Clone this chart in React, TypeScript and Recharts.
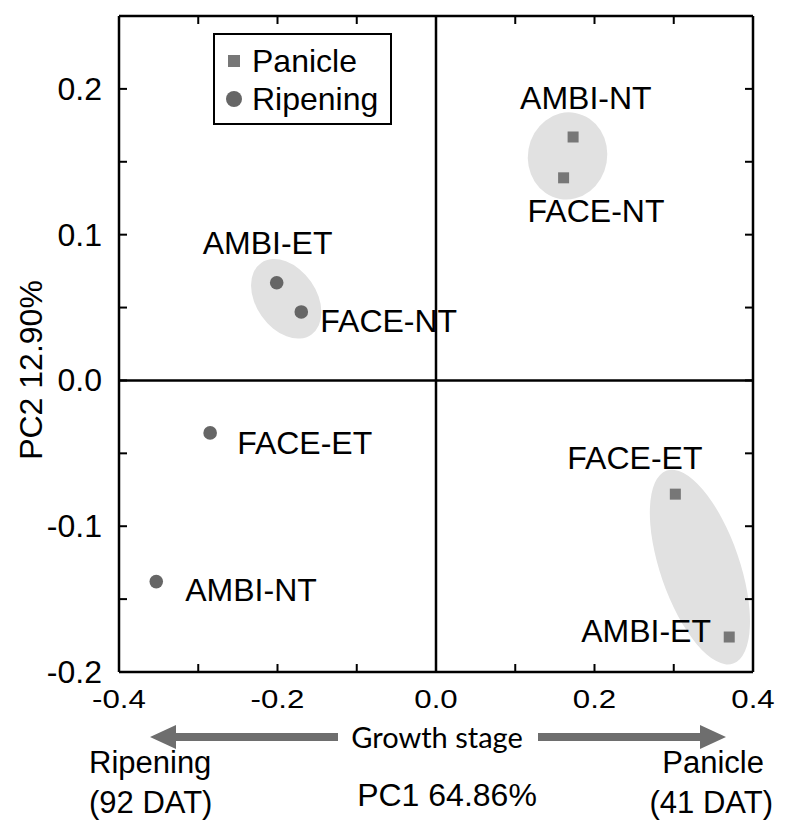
import React from "react";
import {
  ScatterChart,
  Scatter,
  XAxis,
  YAxis,
  ReferenceLine,
  ReferenceArea,
  Legend,
} from "recharts";

const FONT = '"Liberation Sans", Arial, sans-serif';

// PC scores
const panicleNames = ["AMBI-NT", "FACE-NT", "FACE-ET", "AMBI-ET"];
const panicleX = [0.173, 0.161, 0.302, 0.37];
const panicleY = [0.167, 0.139, -0.078, -0.176];

const ripeningNames = ["AMBI-ET", "FACE-NT", "FACE-ET", "AMBI-NT"];
const ripeningX = [-0.201, -0.17, -0.285, -0.353];
const ripeningY = [0.067, 0.047, -0.036, -0.138];

// grey grouping ellipses (centre and half extent, axis units)
const ellipseCx = [0.166, 0.333, -0.189];
const ellipseCy = [0.154, -0.128, 0.056];
const ellipseHx = [0.05, 0.05, 0.038];
const ellipseHy = [0.03, 0.07, 0.03];

const xTicks = [-0.4, -0.3, -0.2, -0.1, 0, 0.1, 0.2, 0.3, 0.4];
const xTickLabels = ["-0.4", "", "-0.2", "", "0.0", "", "0.2", "", "0.4"];
const yTicks = [-0.2, -0.15, -0.1, -0.05, 0, 0.05, 0.1, 0.15, 0.2];
const yTickLabels = ["-0.2", "", "-0.1", "", "0.0", "", "0.1", "", "0.2"];

const panicleData = panicleNames.map((name, i) => ({ name, x: panicleX[i], y: panicleY[i] }));
const ripeningData = ripeningNames.map((name, i) => ({ name, x: ripeningX[i], y: ripeningY[i] }));

// tilt of each ellipse on screen (degrees)
const ellipseTilt = [10, -19, -35];

// where each point's text sits relative to the marker (px)
const labelOffset: Record<string, [number, number]> = {
  "Panicle:AMBI-NT": [-53, -28],
  "Panicle:FACE-NT": [-36, 44],
  "Panicle:FACE-ET": [-108, -25],
  "Panicle:AMBI-ET": [-148, 5],
  "Ripening:AMBI-ET": [-74, -29],
  "Ripening:FACE-NT": [19, 20],
  "Ripening:FACE-ET": [27, 21],
  "Ripening:AMBI-NT": [29, 19],
};

const SQUARE = "#777777";
const CIRCLE = "#666666";

const makeShape = (stage: string) => (props: any) => {
  const { cx, cy, payload } = props;
  const [dx, dy] = labelOffset[`${stage}:${payload.name}`] || [10, 10];
  return (
    <g>
      {stage === "Panicle" ? (
        <rect x={cx - 5.5} y={cy - 5.5} width={11} height={11} fill={SQUARE} />
      ) : (
        <circle cx={cx} cy={cy} r={6.8} fill={CIRCLE} />
      )}
      <text x={cx + dx} y={cy + dy} fontSize={32} fontFamily={FONT} fill="#000">
        {payload.name}
      </text>
    </g>
  );
};

const ellipseShape = (tilt: number) => (props: any) => {
  const { x, y, width, height } = props;
  const cx = x + width / 2;
  const cy = y + height / 2;
  return (
    <ellipse
      cx={cx}
      cy={cy}
      rx={Math.abs(width) / 2}
      ry={Math.abs(height) / 2}
      fill="#e1e1e1"
      transform={`rotate(${tilt} ${cx} ${cy})`}
    />
  );
};

const LeftTick = ({ x, y, index }: any) => (
  <g>
    <line x1={x} y1={y} x2={x + 8} y2={y} stroke="#000" strokeWidth={2} />
    {yTickLabels[index] && (
      <text x={x - 17} y={y + 11} textAnchor="end" fontSize={32} fontFamily={FONT} fill="#000">
        {yTickLabels[index]}
      </text>
    )}
  </g>
);

const RightTick = ({ x, y }: any) => (
  <line x1={x} y1={y} x2={x - 8} y2={y} stroke="#000" strokeWidth={2} />
);

const TopTick = ({ x, y }: any) => (
  <line x1={x} y1={y} x2={x} y2={y + 8} stroke="#000" strokeWidth={2} />
);

const BottomTick = ({ x, y, index }: any) => (
  <g>
    <line x1={x} y1={y} x2={x} y2={y - 8} stroke="#000" strokeWidth={2} />
    {xTickLabels[index] && (
      <text
        transform={`translate(${x},${y + 36}) scale(1.25,1)`}
        textAnchor="middle"
        fontSize={25}
        fontFamily={FONT}
        fill="#000"
      >
        {xTickLabels[index]}
      </text>
    )}
  </g>
);

// arrow with the head at tipX, pointing away from tailX
const arrow = (tailX: number, tipX: number, y: number) => {
  const dir = tipX > tailX ? 1 : -1;
  const base = tipX - dir * 26;
  const pts = [
    [tailX, y - 4],
    [base, y - 4],
    [base, y - 12],
    [tipX, y],
    [base, y + 12],
    [base, y + 4],
    [tailX, y + 4],
  ];
  return <polygon points={pts.map((p) => p.join(",")).join(" ")} fill="#6e6e6e" />;
};

const BottomNotes = (props: any) => {
  const { x, y } = props.viewBox;
  return (
    <g fontFamily={FONT} fill="#000">
      {arrow(x + 219, x + 31, y + 65)}
      {arrow(x + 419, x + 607, y + 65)}
      <text x={x + 318} y={y + 76} textAnchor="middle" fontSize={29} fontFamily="Lato">
        Growth stage
      </text>
      <text x={x - 30} y={y + 101} fontSize={31}>Ripening</text>
      <text x={x - 30} y={y + 141} fontSize={31}>(92 DAT)</text>
      <text x={x + 645} y={y + 101} fontSize={31} textAnchor="end">Panicle</text>
      <text x={x + 654} y={y + 141} fontSize={31} textAnchor="end">(41 DAT)</text>
      <text x={x + 328} y={y + 134} fontSize={32} textAnchor="middle">PC1 64.86%</text>
    </g>
  );
};

const SideTitle = (props: any) => {
  const { x, y, height } = props.viewBox;
  const tx = x + 42;
  const ty = y + height / 2 + 26;
  return (
    <text
      x={tx}
      y={ty}
      transform={`rotate(-90 ${tx} ${ty})`}
      textAnchor="middle"
      fontSize={32}
      fontFamily={FONT}
      fill="#000"
    >
      PC2 12.90%
    </text>
  );
};

const LegendBox = ({ payload }: any) => (
  <div
    style={{
      border: "2px solid #000",
      background: "#fff",
      padding: "7px 12px 5px 11px",
      fontFamily: FONT,
      fontSize: 32,
      lineHeight: "38px",
      color: "#000",
    }}
  >
    {(payload || []).map((p: any) => (
      <div key={p.value} style={{ display: "flex", alignItems: "center", height: 38 }}>
        <svg width={16} height={16} style={{ marginRight: 10 }}>
          {p.value === "Panicle" ? (
            <rect x={2} y={2} width={12} height={12} fill={SQUARE} />
          ) : (
            <circle cx={8} cy={8} r={8} fill={CIRCLE} />
          )}
        </svg>
        <span>{p.value}</span>
      </div>
    ))}
  </div>
);

const frame = { stroke: "#000", strokeWidth: 2.5 };

export default function App() {
  return (
    <div style={{ position: "absolute", left: 0, top: 0, background: "#fff" }}>
      <ScatterChart width={793} height={835} margin={{ top: 0, right: 0, bottom: 0, left: 0 }}>
        <XAxis
          type="number"
          dataKey="x"
          domain={[-0.4, 0.4]}
          ticks={xTicks}
          interval={0}
          allowDataOverflow
          height={163}
          axisLine={frame}
          tickLine={false}
          tickSize={0}
          tickMargin={0}
          tick={<BottomTick />}
          label={{ content: BottomNotes }}
        />
        <XAxis
          xAxisId="top"
          orientation="top"
          type="number"
          dataKey="x"
          domain={[-0.4, 0.4]}
          ticks={xTicks}
          interval={0}
          allowDataOverflow
          height={16}
          axisLine={frame}
          tickLine={false}
          tickSize={0}
          tickMargin={0}
          tick={<TopTick />}
        />
        <YAxis
          type="number"
          dataKey="y"
          domain={[-0.2, 0.25]}
          ticks={yTicks}
          interval={0}
          allowDataOverflow
          width={119}
          axisLine={frame}
          tickLine={false}
          tickSize={0}
          tickMargin={0}
          tick={<LeftTick />}
          label={{ content: SideTitle }}
        />
        <YAxis
          yAxisId="right"
          orientation="right"
          type="number"
          dataKey="y"
          domain={[-0.2, 0.25]}
          ticks={yTicks}
          interval={0}
          allowDataOverflow
          width={40}
          axisLine={frame}
          tickLine={false}
          tickSize={0}
          tickMargin={0}
          tick={<RightTick />}
        />
        {ellipseCx.map((cx, i) => (
          <ReferenceArea
            key={i}
            x1={cx - ellipseHx[i]}
            x2={cx + ellipseHx[i]}
            y1={ellipseCy[i] - ellipseHy[i]}
            y2={ellipseCy[i] + ellipseHy[i]}
            shape={ellipseShape(ellipseTilt[i])}
          />
        ))}
        <ReferenceLine x={0} stroke="#000" strokeWidth={2.5} />
        <ReferenceLine y={0} stroke="#000" strokeWidth={2.5} />
        <Legend
          layout="vertical"
          align="center"
          verticalAlign="middle"
          content={<LegendBox />}
          wrapperStyle={{ left: 213, top: 33, width: "auto", height: "auto" }}
        />
        <Scatter
          name="Panicle"
          data={panicleData}
          fill={SQUARE}
          shape={makeShape("Panicle")}
          isAnimationActive={false}
        />
        <Scatter
          name="Ripening"
          data={ripeningData}
          fill={CIRCLE}
          shape={makeShape("Ripening")}
          isAnimationActive={false}
        />
      </ScatterChart>
    </div>
  );
}
